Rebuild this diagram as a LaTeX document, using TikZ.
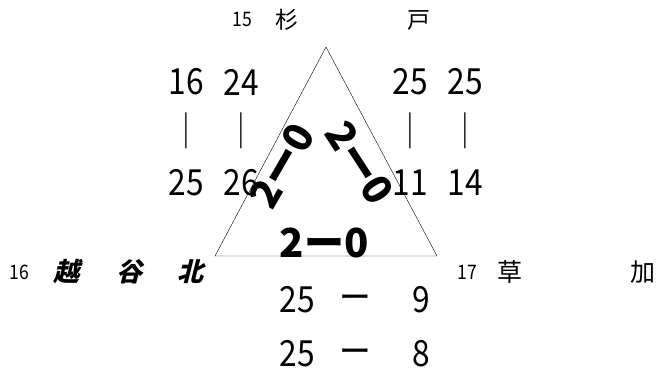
\documentclass[tikz,border=0pt]{standalone}
\usepackage{fontspec}
\newfontfamily\jpfont{Noto Sans CJK JP}
\newfontfamily\numfont{Noto Sans CJK JP}[FakeStretch=0.88]
\newfontfamily\jpslant{Noto Sans CJK JP}[FakeSlant=0.25]
\usetikzlibrary{positioning}
\tikzset{
	bignum/.style={inner sep=0pt, font=\fontsize{36}{36}\numfont}
}
\tikzset{
	smallnum/.style={inner sep=0pt, font=\fontsize{20}{20}\numfont}
}
\tikzset{
	kanji/.style={inner sep=0pt, font=\fontsize{23}{23}\jpfont}
}
\tikzset{
	result/.style={inner sep=0pt, font=\fontsize{40}{40}\jpfont\bfseries}
}

\begin{document}
\begin{tikzpicture}[x=1pt, y=-1pt]
      \useasboundingbox (0,0) rectangle (659,372);
      % triangle
      \coordinate (T) at (326,47);
      \coordinate (BL) at (215,256);
      \coordinate (BR) at (437,256);
      \draw[thin] (T) -- (BL) -- (BR) -- cycle;
      % teams
      \node[smallnum] (n15) at (242,19) {15};
      \node[kanji] (sugi) at (287,20) {杉};
      \node[kanji] (to) at (419,20) {戸};
      \node[smallnum] (n16) at (19,272) {16};
      \node[kanji, font=\fontsize{26}{26}\jpslant\bfseries] (koshi) at (66,272) {越};
      \node[kanji, font=\fontsize{26}{26}\jpslant\bfseries] (gaya) at (129,272) {谷};
      \node[kanji, font=\fontsize{26}{26}\jpslant\bfseries] (kita) at (190,272) {北};
      \node[smallnum] (n17) at (467,272) {17};
      \node[kanji, font=\fontsize{25}{25}\jpfont] (sou) at (510,272) {草};
      \node[kanji, font=\fontsize{25}{25}\jpfont] (ka) at (643,272) {加};
      % set scores left
      \node[bignum] (l1a) at (186,82) {16};
      \node[bignum] (l2a) at (241,82) {24};
      \node[bignum] (l1b) at (186,131) {｜};
      \node[bignum] (l2b) at (241,131) {｜};
      \node[bignum] (l1c) at (186,183) {25};
      \node[bignum] (l2c) at (241,183) {26};
      % set scores right
      \node[bignum] (r1a) at (410,82) {25};
      \node[bignum] (r2a) at (465,82) {25};
      \node[bignum] (r1b) at (410,131) {｜};
      \node[bignum] (r2b) at (465,131) {｜};
      \node[bignum] (r1c) at (410,183) {11};
      \node[bignum] (r2c) at (465,183) {14};
      % set scores bottom
      \node[bignum] (b1a) at (297,300) {25};
      \node[bignum] (b1b) at (355,303) {ー};
      \node[bignum] (b1c) at (421,300) {9};
      \node[bignum] (b2a) at (297,354) {25};
      \node[bignum] (b2b) at (355,357) {ー};
      \node[bignum] (b2c) at (421,354) {8};
      % match results
      \node[result, rotate=60] (resL) at (282,166) {2ー0};
      \node[result, rotate=-57] (resR) at (360,163) {2ー0};
      \node[result] (resB) at (324,243) {2ー0};
    \end{tikzpicture}
\end{document}
